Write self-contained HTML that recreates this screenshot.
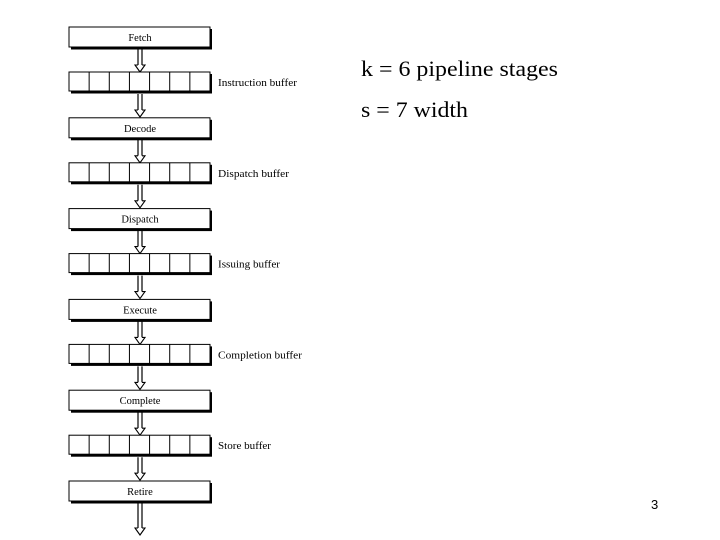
<!DOCTYPE html>
<html><head><style>
html,body{margin:0;padding:0;background:#fff;width:720px;height:540px;overflow:hidden}
</style></head><body>
<svg width="720" height="540" xmlns="http://www.w3.org/2000/svg" font-family="Liberation Serif, serif">
<g id="diag" stroke="#000" fill="#fff">
</g>
<script>
var s=document.getElementById('diag');var ns='http://www.w3.org/2000/svg';
function el(t,a,txt){var e=document.createElementNS(ns,t);for(var k in a)e.setAttribute(k,a[k]);if(txt)e.textContent=txt;s.appendChild(e);return e;}
var stages=['Fetch','Decode','Dispatch','Execute','Complete','Retire'];
var bufs=['Instruction buffer','Dispatch buffer','Issuing buffer','Completion buffer','Store buffer'];
var bw=[79,71,62,84,53];
for(var i=0;i<6;i++){
 var y=27+90.8*i;
 el('rect',{x:71,y:y+2,width:141,height:20.5,fill:'#000',stroke:'none'});
 el('rect',{x:69,y:y,width:141,height:20,fill:'#fff',stroke:'#000','stroke-width':1});
 el('text',{x:140,y:y+14,'text-anchor':'middle','font-size':10.5,fill:'#000',stroke:'none'},stages[i]);
 var y0=y+22,y1=(i<5)?y+45:y+54;
 el('path',{d:'M138,'+y0+' V'+(y1-7)+' M142,'+y0+' V'+(y1-7),stroke:'#000','stroke-width':1.2,fill:'none'});
 el('path',{d:'M138,'+(y1-7)+' H135 L140,'+y1+' L145,'+(y1-7)+' H142',stroke:'#000','stroke-width':1.1,fill:'#fff'});
 if(i<5){
  var by=72+90.8*i;
  el('rect',{x:71,y:by+2,width:141,height:19.5,fill:'#000',stroke:'none'});
  el('rect',{x:69,y:by,width:141,height:19,fill:'#fff',stroke:'#000','stroke-width':1});
  for(var c=1;c<7;c++){var cx=69+c*141/7;el('line',{x1:cx,y1:by,x2:cx,y2:by+19,stroke:'#000','stroke-width':1});}
  el('text',{x:218,y:by+14,'font-size':11,textLength:bw[i],lengthAdjust:'spacingAndGlyphs',fill:'#000',stroke:'none'},bufs[i]);
  var a0=by+22,a1=by+45;
  el('path',{d:'M138,'+a0+' V'+(a1-7)+' M142,'+a0+' V'+(a1-7),stroke:'#000','stroke-width':1.2,fill:'none'});
  el('path',{d:'M138,'+(a1-7)+' H135 L140,'+a1+' L145,'+(a1-7)+' H142',stroke:'#000','stroke-width':1.1,fill:'#fff'});
 }
}
</script>
<text x="361" y="76" font-size="22" textLength="197" lengthAdjust="spacingAndGlyphs" fill="#000">k = 6 pipeline stages</text>
<text x="361" y="117" font-size="22" textLength="107" lengthAdjust="spacingAndGlyphs" fill="#000">s = 7 width</text>
<text x="651" y="509" font-size="13" font-family="Liberation Sans, sans-serif" fill="#000">3</text>
</svg>
</body></html>
